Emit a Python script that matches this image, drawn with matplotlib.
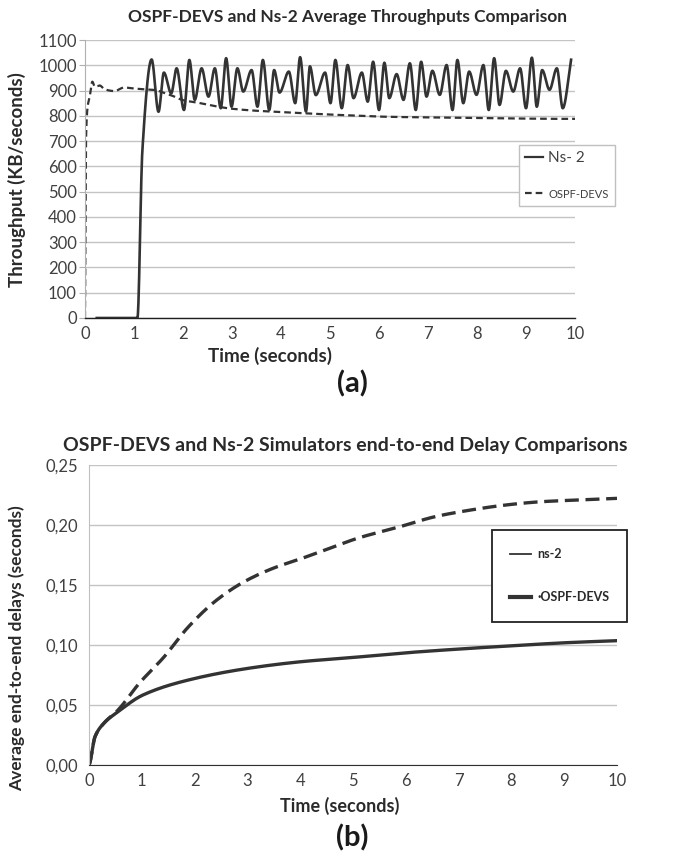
import numpy as np
import matplotlib
matplotlib.use("Agg")
import matplotlib.pyplot as plt
from matplotlib.lines import Line2D

plt.rcParams['font.family'] = ['Lato', 'DejaVu Sans']

# ---------------- data (a) ----------------
ns2_t = [0.24, 1.07, 1.17, 1.36, 1.50, 1.61, 1.76, 1.87, 2.02, 2.13, 2.24, 2.38, 2.52,
         2.65, 2.77, 2.88, 2.99, 3.11, 3.23, 3.40, 3.52, 3.63, 3.76, 3.86, 3.97, 4.16,
         4.29, 4.39, 4.51, 4.59, 4.71, 4.90, 5.01, 5.11, 5.24, 5.36, 5.48, 5.65, 5.77,
         5.88, 6.00, 6.11, 6.21, 6.36, 6.50, 6.63, 6.75, 6.86, 6.97, 7.09, 7.24, 7.38,
         7.50, 7.60, 7.72, 7.84, 7.99, 8.13, 8.24, 8.35, 8.46, 8.59, 8.74, 8.88, 9.00,
         9.12, 9.22, 9.33, 9.48, 9.63, 9.75, 9.92]
ns2_v = [0, 0, 660, 1023, 816, 971, 889, 988, 823, 1021, 863, 988, 876,
         988, 830, 1028, 836, 988, 896, 981, 836, 1021, 823, 981, 892, 975,
         850, 1032, 817, 996, 882, 971, 850, 1021, 830, 1001, 870, 971, 856,
         1014, 823, 1010, 870, 965, 863, 1008, 823, 1014, 876, 978, 883, 1001,
         823, 1021, 850, 975, 883, 1001, 823, 1028, 843, 978, 896, 988, 830,
         1030, 836, 981, 903, 988, 830, 1022]

ospf_t = [0, 0.02, 0.05, 0.10, 0.15, 0.20, 0.30, 0.40, 0.60, 0.80, 1.00, 1.20, 1.40,
          1.60, 1.80, 2.00, 2.30, 2.60, 3.00, 3.50, 4.00, 4.50, 5.00, 5.50, 6.00,
          6.50, 7.00, 7.50, 8.00, 8.50, 9.00, 9.50, 10.0]
ospf_v = [0, 700, 830, 880, 935, 915, 920, 905, 898, 912, 908, 905, 903,
          892, 878, 862, 852, 840, 828, 820, 815, 810, 805, 801, 797,
          795, 794, 792, 791, 790, 789, 788, 788]

a_yticks = list(range(0, 1101, 100))
a_xticks = list(range(0, 11))

# ---------------- data (b) ----------------
b_ns2_t = [0, 0.01, 0.114, 0.28, 0.55, 1.02, 1.88, 3.02, 4.02, 5.02, 6.03, 7.03, 8.03, 9.03, 10.0]
b_ns2_v = [0, 0.001, 0.0236, 0.0347, 0.0444, 0.0583, 0.0708, 0.0806, 0.0861, 0.0897,
           0.0936, 0.0967, 0.0994, 0.1019, 0.1036]
b_ospf_t = [0, 0.01, 0.114, 0.28, 0.55, 0.95, 1.42, 1.88, 2.42, 2.95, 3.49, 4.02, 4.56,
            5.09, 5.89, 6.56, 7.23, 7.90, 8.56, 9.23, 10.0]
b_ospf_v = [0, 0.001, 0.0236, 0.0347, 0.0458, 0.068, 0.090, 0.115, 0.1375, 0.153, 0.164,
            0.172, 0.1806, 0.189, 0.1986, 0.207, 0.2125, 0.2167, 0.2194, 0.2208, 0.2222]
b_yticks = [0.0, 0.05, 0.10, 0.15, 0.20, 0.25]
b_yticklabels = ['0,00', '0,05', '0,10', '0,15', '0,20', '0,25']


def smooth(x, y, n=20):
    """Monotone piecewise-cubic (PCHIP) curve through the points, as a smoothed line."""
    x = np.asarray(x, float)
    y = np.asarray(y, float)
    h = np.diff(x)
    d = np.diff(y) / h
    m = np.zeros_like(y)
    m[0] = d[0]
    m[-1] = d[-1]
    for k in range(1, len(x) - 1):
        if d[k - 1] * d[k] <= 0:
            m[k] = 0.0
        else:
            w1 = 2 * h[k] + h[k - 1]
            w2 = h[k] + 2 * h[k - 1]
            m[k] = (w1 + w2) / (w1 / d[k - 1] + w2 / d[k])
    xs, ys = [], []
    for k in range(len(x) - 1):
        s = np.linspace(0, 1, n, endpoint=False)
        h00 = 2 * s**3 - 3 * s**2 + 1
        h10 = s**3 - 2 * s**2 + s
        h01 = -2 * s**3 + 3 * s**2
        h11 = s**3 - s**2
        xs.append(x[k] + s * h[k])
        ys.append(h00 * y[k] + h10 * h[k] * m[k] + h01 * y[k + 1] + h11 * h[k] * m[k + 1])
    xs.append([x[-1]])
    ys.append([y[-1]])
    return np.concatenate(xs), np.concatenate(ys)


W, H = 684, 857
fig = plt.figure(figsize=(W / 100, H / 100), dpi=100)

line_c = '#333333'
grid_c = '#c4c4c4'
tick_c = '#404040'

# ---------------- chart (a) ----------------
axa = fig.add_axes([85 / W, 1 - 318 / H, 490 / W, 278 / H])
xs, ys = smooth(ns2_t, ns2_v)
axa.plot(xs, ys, color=line_c, lw=1.9, solid_joinstyle='round')
xs, ys = smooth(ospf_t, ospf_v)
axa.plot(xs, ys, color=line_c, lw=1.6, dashes=(3.0, 1.8))
axa.set_xlim(0, 10)
axa.set_ylim(0, 1100)
axa.set_yticks(a_yticks)
axa.set_xticks(a_xticks)
axa.grid(axis='y', color=grid_c, lw=1.0)
axa.set_axisbelow(True)
for s in ['top', 'right']:
    axa.spines[s].set_visible(False)
axa.spines['left'].set_color('#b0b0b0')
axa.spines['bottom'].set_color('#202020')
axa.spines['bottom'].set_linewidth(1.0)
axa.tick_params(axis='y', length=4, color='#b0b0b0', labelsize=12, labelcolor=tick_c, pad=2)
axa.tick_params(axis='x', length=0, labelsize=12, labelcolor=tick_c, pad=6)

h1 = Line2D([], [], color=line_c, lw=1.6)
h2 = Line2D([], [], color=line_c, lw=1.6, dashes=(3.0, 1.8))
lega = axa.legend([h1, h2], ['Ns- 2', 'OSPF-DEVS'], loc='upper left',
                  bbox_to_anchor=((519 - 85) / 490, (318 - 145) / 278),
                  frameon=True, fancybox=False, edgecolor='#c0c0c0', framealpha=1,
                  fontsize=11, handlelength=1.2, handletextpad=0.3, labelspacing=1.45,
                  borderpad=0.4, borderaxespad=0)
lega.get_frame().set_linewidth(1.0)
lega.get_texts()[1].set_fontsize(8)
for t in lega.get_texts():
    t.set_color(tick_c)

fig.text(348 / W, 1 - 17 / H, 'OSPF-DEVS and Ns-2 Average Throughputs Comparison',
         ha='center', va='center', fontsize=12.5, fontweight='bold', color='#2a2a2a')
fig.text(17 / W, 1 - 180 / H, 'Throughput (KB/seconds)', rotation=90,
         ha='center', va='center', fontsize=13.5, fontweight='bold', color='#2a2a2a')
fig.text(270 / W, 1 - 356 / H, 'Time (seconds)', ha='center', va='center',
         fontsize=13.5, fontweight='bold', color='#2a2a2a')
fig.text(352 / W, 1 - 384 / H, '(a)', ha='center', va='center',
         fontsize=21, fontweight='bold', color='#1a1a1a')

# ---------------- chart (b) ----------------
axb = fig.add_axes([89 / W, 1 - 765 / H, 528 / W, 300 / H])
xs, ys = smooth(b_ns2_t, b_ns2_v)
axb.plot(xs, ys, color=line_c, lw=2.4)
xs, ys = smooth(b_ospf_t, b_ospf_v)
axb.plot(xs, ys, color=line_c, lw=2.4, dashes=(4.2, 2.0))
axb.set_xlim(0, 10)
axb.set_ylim(0, 0.25)
axb.set_yticks(b_yticks)
axb.set_yticklabels(b_yticklabels)
axb.set_xticks(a_xticks)
axb.grid(axis='y', color=grid_c, lw=1.0)
axb.set_axisbelow(True)
for s in ['top', 'right']:
    axb.spines[s].set_visible(False)
axb.spines['left'].set_color('#c0c0c0')
axb.spines['bottom'].set_color('#303030')
axb.tick_params(axis='y', length=0, labelsize=12, labelcolor=tick_c, pad=8)
axb.tick_params(axis='x', length=0, labelsize=12, labelcolor=tick_c, pad=6)

g1 = Line2D([], [], color=line_c, lw=1.3)
g2 = Line2D([], [], color=line_c, lw=3.0)
legb = axb.legend([g1, g2], ['ns-2', '·OSPF-DEVS'], loc='upper left',
                  bbox_to_anchor=((492 - 89) / 528, (765 - 530) / 300),
                  frameon=True, fancybox=False, edgecolor='#222222', framealpha=1,
                  fontsize=9, handlelength=1.7, handletextpad=0.45, labelspacing=2.5,
                  borderpad=1.45, borderaxespad=0)
legb.get_frame().set_linewidth(1.3)
for t in legb.get_texts():
    t.set_color('#2a2a2a')
    t.set_fontweight('bold')

fig.text(345 / W, 1 - 446 / H, 'OSPF-DEVS and Ns-2 Simulators end-to-end Delay Comparisons',
         ha='center', va='center', fontsize=14, fontweight='bold', color='#2a2a2a')
fig.text(17 / W, 1 - 648 / H, 'Average end-to-end delays (seconds)', rotation=90,
         ha='center', va='center', fontsize=12.5, fontweight='bold', color='#2a2a2a')
fig.text(340 / W, 1 - 806 / H, 'Time (seconds)', ha='center', va='center',
         fontsize=13, fontweight='bold', color='#2a2a2a')
fig.text(352 / W, 1 - 838 / H, '(b)', ha='center', va='center',
         fontsize=21, fontweight='bold', color='#1a1a1a')

fig.savefig('out.png', dpi=100)
